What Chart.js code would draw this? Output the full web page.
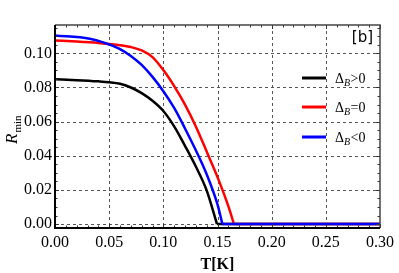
<!DOCTYPE html>
<html>
<head>
<meta charset="utf-8">
<script src="https://cdn.jsdelivr.net/npm/chart.js@4.4.0/dist/chart.umd.min.js"></script>
<style>
  html, body { margin: 0; padding: 0; background: #fff; }
  #wrap { width: 399px; height: 273px; }
</style>
</head>
<body>
<div id="wrap"><canvas id="chart"></canvas></div>
<script>
// values (T in K, R_min)
const tPos = [0, 0.02, 0.04, 0.05, 0.06, 0.07, 0.08, 0.09, 0.10, 0.11, 0.12, 0.13, 0.14, 0.1495, 0.30];
const rPos = [0.0848, 0.0843, 0.0836, 0.0831, 0.0822, 0.0800, 0.0767, 0.0722, 0.0662, 0.0572, 0.0458, 0.0337, 0.0197, 0, 0];

const tZero = [0, 0.02, 0.04, 0.05, 0.06, 0.07, 0.08, 0.09, 0.10, 0.11, 0.12, 0.13, 0.14, 0.15, 0.16, 0.1652, 0.30];
const rZero = [0.1075, 0.1069, 0.1061, 0.1055, 0.1048, 0.1037, 0.1017, 0.0978, 0.0902, 0.0808, 0.0700, 0.0572, 0.0425, 0.0275, 0.0105, 0, 0];

const tNeg = [0, 0.032, 0.04, 0.05, 0.06, 0.07, 0.08, 0.09, 0.10, 0.11, 0.12, 0.13, 0.14, 0.15, 0.1545, 0.30];
const rNeg = [0.1105, 0.1086, 0.1073, 0.1052, 0.1025, 0.0985, 0.0932, 0.0862, 0.0778, 0.0680, 0.0560, 0.0432, 0.0292, 0.0115, 0, 0];

const xTicks = [0, 0.05, 0.10, 0.15, 0.20, 0.25, 0.30];
const yTicks = [0, 0.02, 0.04, 0.06, 0.08, 0.10];
const legendLabels = ['>0', '=0', '<0'];
const colors = ['#000000', '#ff0000', '#0000ff'];

const pts = (xs, ys) => xs.map((x, i) => ({ x: x, y: ys[i] }));
// curved part up to the critical T, then the flat part at zero
const curve = (xs, ys) => pts(xs.slice(0, -1), ys.slice(0, -1));
const flat = (xs, ys) => pts(xs.slice(-2), ys.slice(-2));
const serif = '"Liberation Serif", "DejaVu Serif", serif';

// frame, dashed grid, inward ticks, legend and labels
const decor = {
  id: 'decor',
  beforeDatasetsDraw(chart) {
    const { ctx, chartArea: a, scales: { x, y } } = chart;
    ctx.save();
    ctx.strokeStyle = '#555';
    ctx.lineWidth = 1;
    ctx.setLineDash([3, 3]);
    xTicks.slice(1, -1).forEach(v => {
      const px = Math.round(x.getPixelForValue(v)) + 0.5;
      ctx.beginPath(); ctx.moveTo(px, a.top); ctx.lineTo(px, a.bottom); ctx.stroke();
    });
    yTicks.forEach(v => {
      const py = Math.round(y.getPixelForValue(v)) + 0.5;
      ctx.beginPath(); ctx.moveTo(a.left, py); ctx.lineTo(a.right, py); ctx.stroke();
    });
    ctx.restore();
  },
  afterDatasetsDraw(chart) {
    const { ctx, chartArea: a, scales: { x, y } } = chart;
    ctx.save();
    // minor + major tick marks, inward on all four sides
    ctx.strokeStyle = '#333';
    ctx.lineWidth = 1;
    for (let i = 0; i <= 30; i++) {
      const v = i * 0.01;
      const px = Math.round(x.getPixelForValue(v)) + 0.5;
      const len = i % 5 === 0 ? 4 : 2.5;
      ctx.beginPath();
      ctx.moveTo(px, a.bottom); ctx.lineTo(px, a.bottom - len);
      ctx.moveTo(px, a.top); ctx.lineTo(px, a.top + len);
      ctx.stroke();
    }
    for (let i = 0; i <= 23; i++) {
      const v = i * 0.005;
      const py = Math.round(y.getPixelForValue(v)) + 0.5;
      if (py < a.top || py > a.bottom) continue;
      const len = i % 4 === 0 ? 4 : 2.5;
      ctx.beginPath();
      ctx.moveTo(a.left, py); ctx.lineTo(a.left + len, py);
      ctx.moveTo(a.right, py); ctx.lineTo(a.right - len, py);
      ctx.stroke();
    }
    // frame
    ctx.strokeStyle = '#444';
    ctx.lineWidth = 1.5;
    ctx.beginPath();
    ctx.moveTo(a.left, a.top); ctx.lineTo(a.right, a.top); ctx.lineTo(a.right, a.bottom);
    ctx.stroke();
    ctx.strokeStyle = '#000';
    ctx.lineWidth = 2;
    ctx.beginPath();
    ctx.moveTo(a.left, a.top); ctx.lineTo(a.left, a.bottom); ctx.lineTo(a.right, a.bottom);
    ctx.stroke();

    // panel tag
    ctx.fillStyle = '#000';
    ctx.font = '15px "DejaVu Sans", sans-serif';
    ctx.textAlign = 'right';
    ctx.textBaseline = 'alphabetic';
    ctx.fillText('[b]', a.right - 7, 42);

    // legend
    const rows = [78, 107, 137];
    rows.forEach((ry, i) => {
      ctx.strokeStyle = colors[i];
      ctx.lineWidth = 3;
      ctx.beginPath(); ctx.moveTo(302, ry); ctx.lineTo(326, ry); ctx.stroke();
      let tx = 335;
      const base = ry + 5;
      ctx.textAlign = 'left';
      ctx.fillStyle = '#000';
      ctx.font = '14px ' + serif;
      ctx.fillText('\u0394', tx, base);
      tx += ctx.measureText('\u0394').width;
      ctx.font = 'italic 10px ' + serif;
      ctx.fillText('B', tx, base + 3);
      tx += ctx.measureText('B').width + 0.5;
      ctx.font = '14px ' + serif;
      ctx.fillText(legendLabels[i], tx, base);
    });

    // axis titles
    ctx.textAlign = 'center';
    ctx.font = 'bold 16px ' + serif;
    ctx.fillText('T[K]', (a.left + a.right) / 2, 269);

    ctx.translate(17, 144);
    ctx.rotate(-Math.PI / 2);
    ctx.textAlign = 'left';
    ctx.font = 'italic 17px ' + serif;
    ctx.fillText('R', 0, 0);
    const wR = ctx.measureText('R').width;
    ctx.font = '11px ' + serif;
    ctx.fillText('min', wR + 1, 4);
    ctx.restore();
  }
};

new Chart(document.getElementById('chart'), {
  type: 'line',
  data: {
    datasets: [
      { data: curve(tNeg, rNeg), borderColor: colors[2], order: 0 },
      { data: flat(tNeg, rNeg), borderColor: colors[2], order: 0 },
      { data: curve(tZero, rZero), borderColor: colors[1], order: 1 },
      { data: flat(tZero, rZero), borderColor: colors[1], order: 1 },
      { data: curve(tPos, rPos), borderColor: colors[0], order: 2 },
      { data: flat(tPos, rPos), borderColor: colors[0], order: 2 }
    ]
  },
  options: {
    responsive: true,
    maintainAspectRatio: false,
    animation: false,
    layout: { padding: { left: 0, right: 16, top: 25, bottom: 0 } },
    elements: {
      point: { radius: 0 },
      line: { borderWidth: 2.5, cubicInterpolationMode: 'monotone', fill: false }
    },
    plugins: { legend: { display: false }, tooltip: { enabled: false } },
    scales: {
      x: {
        type: 'linear',
        min: 0,
        max: 0.3,
        afterBuildTicks: s => { s.ticks = xTicks.map(v => ({ value: v })); },
        afterFit: s => { s.height = 45; },
        grid: { display: false, drawTicks: false },
        border: { display: false },
        ticks: {
          padding: 5,
          color: '#000',
          font: { family: serif, size: 16 },
          maxRotation: 0,
          callback: v => v.toFixed(2)
        }
      },
      y: {
        min: -0.0023,
        max: 0.1166,
        afterBuildTicks: s => { s.ticks = yTicks.map(v => ({ value: v })); },
        afterFit: s => { s.width = 55; },
        grid: { display: false, drawTicks: false },
        border: { display: false },
        ticks: {
          padding: 3,
          color: '#000',
          font: { family: serif, size: 16 },
          callback: v => v.toFixed(2)
        }
      }
    }
  },
  plugins: [decor]
});
</script>
</body>
</html>
